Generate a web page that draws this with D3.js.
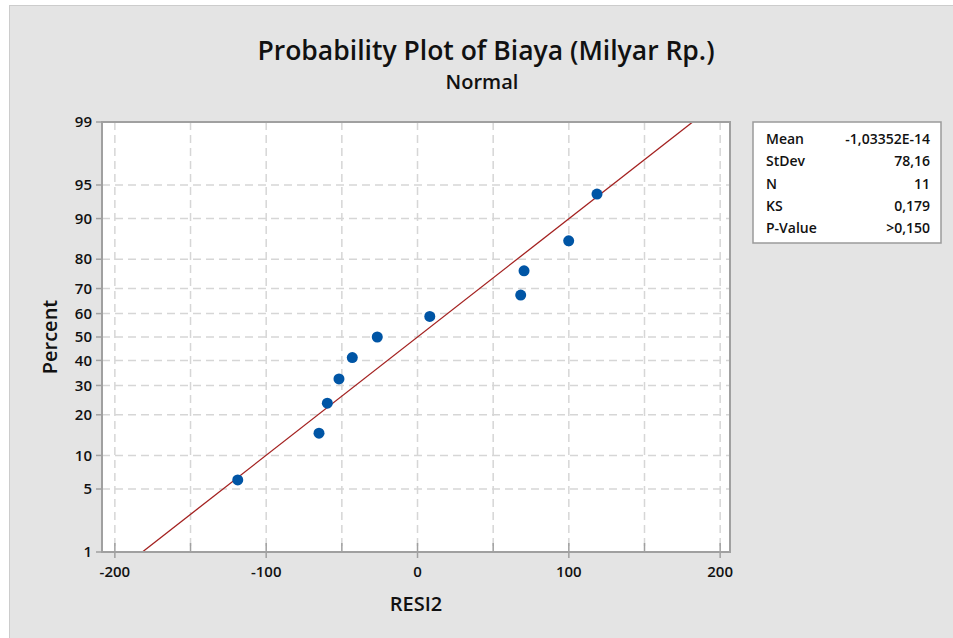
<!DOCTYPE html>
<html>
<head>
<meta charset="utf-8">
<script src="https://cdn.jsdelivr.net/npm/d3@7"></script>
<style>
  body { margin: 0; background: #fff; }
  svg { display: block; }
  text { font-family: "Open Sans", "Noto Sans", sans-serif; fill: #111; }
</style>
</head>
<body>
<svg id="chart" width="953" height="638"></svg>
<script>
// residuals (RESI2) and their plotted percent positions
const resid = [-118.8, -65.1, -59.6, -51.9, -43.1, -26.6, 8.1, 68.2, 70.4, 99.9, 118.6];
const percent = [6.1, 14.9, 23.7, 32.5, 41.2, 50.0, 58.8, 67.5, 76.3, 85.1, 93.9];

const xTicks = [-200, -100, 0, 100, 200];
const xGrid = [-200, -150, -100, -50, 0, 50, 100, 150, 200];
const yTicks = [1, 5, 10, 20, 30, 40, 50, 60, 70, 80, 90, 95, 99];

const fitMean = -1.03352e-14;
const fitSd = 78.16;

const statLabels = ["Mean", "StDev", "N", "KS", "P-Value"];
const statValues = ["-1,03352E-14", "78,16", "11", "0,179", ">0,150"];

// inverse normal cdf (Acklam)
function qnorm(p) {
    const a = [-3.969683028665376e+01, 2.209460984245205e+02, -2.759285104469687e+02, 1.383577518672690e+02, -3.066479806614716e+01, 2.506628277459239e+00];
    const b = [-5.447609879822406e+01, 1.615858368580409e+02, -1.556989798598866e+02, 6.680131188771972e+01, -1.328068155288572e+01];
    const c = [-7.784894002430293e-03, -3.223964580411365e-01, -2.400758277161838e+00, -2.549732539343734e+00, 4.374664141464968e+00, 2.938163982698783e+00];
    const d = [7.784695709041462e-03, 3.224671290700398e-01, 2.445134137142996e+00, 3.754408661907416e+00];
    const pl = 0.02425;
    let q, r;
    if (p < pl) {
        q = Math.sqrt(-2 * Math.log(p));
        return (((((c[0]*q+c[1])*q+c[2])*q+c[3])*q+c[4])*q+c[5]) / ((((d[0]*q+d[1])*q+d[2])*q+d[3])*q+1);
    }
    if (p > 1 - pl) {
        q = Math.sqrt(-2 * Math.log(1 - p));
        return -(((((c[0]*q+c[1])*q+c[2])*q+c[3])*q+c[4])*q+c[5]) / ((((d[0]*q+d[1])*q+d[2])*q+d[3])*q+1);
    }
    q = p - 0.5; r = q * q;
    return (((((a[0]*r+a[1])*r+a[2])*r+a[3])*r+a[4])*r+a[5])*q / (((((b[0]*r+b[1])*r+b[2])*r+b[3])*r+b[4])*r+1);
}

const margin = {top: 122, right: 223, bottom: 86, left: 102};
const W = 953, H = 638;

const svg = d3.select("#chart");

// figure background
svg.append("rect")
    .attr("x", 9.5).attr("y", 5.5)
    .attr("width", W).attr("height", H)
    .attr("fill", "#e4e4e4")
    .attr("stroke", "#cccccc");

const x = d3.scaleLinear()
    .domain([-208.5, 206.5])
    .range([margin.left, W - margin.right]);

const zScale = d3.scaleLinear()
    .domain([qnorm(0.01), qnorm(0.99)])
    .range([H - margin.bottom, margin.top]);
const y = p => zScale(qnorm(p / 100));

const x0 = margin.left, x1 = W - margin.right;
const y0 = margin.top, y1 = H - margin.bottom;

svg.append("rect")
    .attr("x", x0).attr("y", y0)
    .attr("width", x1 - x0).attr("height", y1 - y0)
    .attr("fill", "#fff");

// grid
const grid = svg.append("g")
    .attr("stroke", "#d6d6d6")
    .attr("stroke-width", 1.5)
    .attr("stroke-dasharray", "8,5");
grid.selectAll(".vg")
    .data(xGrid)
    .enter().append("line")
        .attr("x1", d => x(d)).attr("x2", d => x(d))
        .attr("y1", y0).attr("y2", y1);
grid.selectAll(".hg")
    .data(yTicks.slice(1, -1))
    .enter().append("line")
        .attr("x1", x0).attr("x2", x1)
        .attr("y1", d => y(d)).attr("y2", d => y(d));

// fitted line
const fitP = [1, 99];
svg.append("line")
    .attr("x1", x(fitMean + fitSd * qnorm(fitP[0] / 100)))
    .attr("y1", y(fitP[0]))
    .attr("x2", x(fitMean + fitSd * qnorm(fitP[1] / 100)))
    .attr("y2", y(fitP[1]))
    .attr("stroke", "#a3201f")
    .attr("stroke-width", 1.3);

// points
svg.append("g")
    .selectAll("circle")
        .data(resid)
    .enter().append("circle")
        .attr("cx", d => x(d))
        .attr("cy", (d, i) => y(percent[i]))
        .attr("r", 5.5)
        .attr("fill", "#0055a5");

// frame
svg.append("rect")
    .attr("x", x0).attr("y", y0)
    .attr("width", x1 - x0).attr("height", y1 - y0)
    .attr("fill", "none")
    .attr("stroke", "#a0a0a0")
    .attr("stroke-width", 2);

// x axis ticks
const xa = svg.append("g").attr("stroke", "#a0a0a0").attr("stroke-width", 1.5);
xa.selectAll(".mt")
    .data(xGrid)
    .enter().append("line")
        .attr("x1", d => x(d)).attr("x2", d => x(d))
        .attr("y1", y1 - 9)
        .attr("y2", d => xTicks.includes(d) ? y1 + 6 : y1);
svg.append("g")
    .style("font-size", "15px")
    .style("font-weight", 600)
    .attr("text-anchor", "middle")
    .selectAll("text")
        .data(xTicks)
    .enter().append("text")
        .attr("x", d => x(d))
        .attr("y", y1 + 25)
        .text(d => d);

// y axis ticks
const ya = svg.append("g").attr("stroke", "#a0a0a0").attr("stroke-width", 1.5);
ya.selectAll("line")
    .data(yTicks)
    .enter().append("line")
        .attr("x1", x0 - 6).attr("x2", x0)
        .attr("y1", d => y(d)).attr("y2", d => y(d));
svg.append("g")
    .style("font-size", "15px")
    .style("font-weight", 600)
    .attr("text-anchor", "end")
    .selectAll("text")
        .data(yTicks)
    .enter().append("text")
        .attr("x", x0 - 10)
        .attr("y", d => y(d))
        .attr("dy", "0.35em")
        .text(d => d);

// titles
svg.append("text")
    .attr("x", 486).attr("y", 60)
    .attr("text-anchor", "middle")
    .style("font-size", "26.5px")
    .style("font-weight", 600)
    .text("Probability Plot of Biaya (Milyar Rp.)");
svg.append("text")
    .attr("x", 482).attr("y", 89)
    .attr("text-anchor", "middle")
    .style("font-size", "20px")
    .style("font-weight", 600)
    .text("Normal");
svg.append("text")
    .attr("x", (x0 + x1) / 2).attr("y", 611)
    .attr("text-anchor", "middle")
    .style("font-size", "20px")
    .style("font-weight", 600)
    .text("RESI2");
svg.append("text")
    .attr("transform", `translate(57, ${(y0 + y1) / 2}) rotate(-90)`)
    .attr("text-anchor", "middle")
    .style("font-size", "20px")
    .style("font-weight", 600)
    .text("Percent");

// stats box
const box = svg.append("g");
box.append("rect")
    .attr("x", 753).attr("y", 122)
    .attr("width", 188).attr("height", 121)
    .attr("fill", "#fff")
    .attr("stroke", "#9a9a9a")
    .attr("stroke-width", 1.5);
const rowY = i => 144 + i * 22.3;
box.selectAll(".lab")
    .data(statLabels)
    .enter().append("text")
        .attr("x", 766)
        .attr("y", (d, i) => rowY(i))
        .style("font-size", "14px")
        .style("font-weight", 600)
        .text(d => d);
box.selectAll(".val")
    .data(statValues)
    .enter().append("text")
        .attr("x", 930)
        .attr("y", (d, i) => rowY(i))
        .attr("text-anchor", "end")
        .style("font-size", "14px")
        .style("font-weight", 600)
        .text(d => d);
</script>
</body>
</html>
